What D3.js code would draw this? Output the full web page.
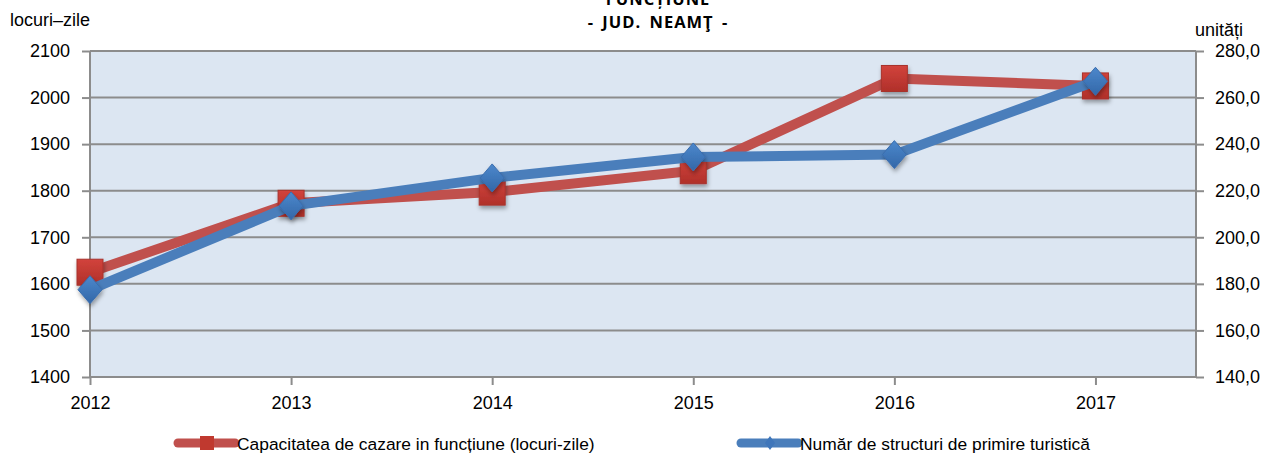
<!DOCTYPE html>
<html>
<head>
<meta charset="utf-8">
<script src="https://cdn.jsdelivr.net/npm/d3@7/dist/d3.min.js"></script>
<style>
  html, body { margin: 0; padding: 0; background: #fff; }
  svg { display: block; }
  .lbl { font-family: "Liberation Sans", Arial, sans-serif; fill: #000; }
  .ttl { font-family: "Open Sans", "Liberation Sans", Arial, sans-serif; font-weight: bold; fill: #000; }
</style>
</head>
<body>
<svg id="chart" width="1263" height="456"></svg>
<script>
// Years shown on the category axis
const years = [2012, 2013, 2014, 2015, 2016, 2017];
// Capacitatea de cazare in funcțiune (locuri-zile) – left axis
const capacitate = [1625, 1773, 1797, 1843, 2041, 2025];
// Număr de structuri de primire turistică (unități) – right axis
const structuri = [177.5, 213.5, 225.5, 234.5, 235.5, 267.0];
// Tick values
const leftTicks = [1400, 1500, 1600, 1700, 1800, 1900, 2000, 2100];
const rightTicks = [140, 160, 180, 200, 220, 240, 260, 280];

const redLine = "#C0504D", redMark = "#C0392F";
const blueLine = "#4A7EBB", blueMark = "#3F76BA";

const svg = d3.select("#chart");
const margin = { left: 90, right: 1196, top: 51, bottom: 377 };

const x = d3.scaleLinear().domain([2012, 2017.5]).range([margin.left, margin.right]);
const yL = d3.scaleLinear().domain([1400, 2100]).range([margin.bottom, margin.top]);
const yR = d3.scaleLinear().domain([140, 280]).range([margin.bottom, margin.top]);

// drop shadow and gradients for the markers
const defs = svg.append("defs");
const f = defs.append("filter").attr("id", "shadow").attr("x", "-50%").attr("y", "-50%").attr("width", "200%").attr("height", "200%");
f.append("feDropShadow").attr("dx", 1).attr("dy", 3).attr("stdDeviation", 2).attr("flood-color", "#000").attr("flood-opacity", 0.35);
const gRed = defs.append("linearGradient").attr("id", "gRed").attr("x1", 0).attr("y1", 0).attr("x2", 0).attr("y2", 1);
gRed.append("stop").attr("offset", "0%").attr("stop-color", "#D2433C");
gRed.append("stop").attr("offset", "100%").attr("stop-color", "#B0302A");
const gBlue = defs.append("linearGradient").attr("id", "gBlue").attr("x1", 0).attr("y1", 0).attr("x2", 0).attr("y2", 1);
gBlue.append("stop").attr("offset", "0%").attr("stop-color", "#4C88CC");
gBlue.append("stop").attr("offset", "100%").attr("stop-color", "#3367A8");

// plot background
svg.append("rect")
  .attr("x", margin.left).attr("y", margin.top)
  .attr("width", margin.right - margin.left).attr("height", margin.bottom - margin.top)
  .attr("fill", "#DCE6F2");

// horizontal gridlines
svg.append("g").selectAll("line").data(leftTicks).join("line")
  .attr("x1", margin.left).attr("x2", margin.right)
  .attr("y1", d => yL(d)).attr("y2", d => yL(d))
  .attr("stroke", "#8C8C8C").attr("stroke-width", 2);

// left axis
const axL = svg.append("g").attr("transform", `translate(${margin.left},0)`)
  .call(d3.axisLeft(yL).tickValues(leftTicks).tickSize(8).tickPadding(12).tickFormat(d3.format("d")));
// right axis
const axR = svg.append("g").attr("transform", `translate(${margin.right},0)`)
  .call(d3.axisRight(yR).tickValues(rightTicks).tickSize(8).tickPadding(11)
    .tickFormat(d => d3.format(".1f")(d).replace(".", ",")));
// bottom axis
const axB = svg.append("g").attr("transform", `translate(0,${margin.bottom})`)
  .call(d3.axisBottom(x).tickValues(years).tickSize(8).tickPadding(11).tickFormat(d3.format("d")));

[axL, axR, axB].forEach(a => {
  a.select(".domain").attr("stroke", "#8C8C8C").attr("stroke-width", 2);
  a.selectAll(".tick line").attr("stroke", "#8C8C8C").attr("stroke-width", 2);
  a.selectAll("text").attr("class", "lbl").attr("font-size", 18).attr("fill", "#000");
});
axB.select(".domain").attr("d", `M${margin.left},0H${margin.right}`);
axL.select(".domain").attr("d", `M0,${margin.top}V${margin.bottom}`);
axR.select(".domain").attr("d", `M0,${margin.top}V${margin.bottom}`);

// series lines
const lineL = d3.line().x((d, i) => x(years[i])).y(d => yL(d));
const lineR = d3.line().x((d, i) => x(years[i])).y(d => yR(d));

svg.append("path").datum(capacitate).attr("d", lineL)
  .attr("fill", "none").attr("stroke", redLine).attr("stroke-width", 10).attr("stroke-linejoin", "round");
svg.append("g").selectAll("rect").data(capacitate).join("rect")
  .attr("x", (d, i) => x(years[i]) - 13).attr("y", d => yL(d) - 13)
  .attr("width", 26).attr("height", 26)
  .attr("fill", "url(#gRed)").attr("stroke", "#A8322C").attr("stroke-width", 1)
  .attr("filter", "url(#shadow)");

svg.append("path").datum(structuri).attr("d", lineR)
  .attr("fill", "none").attr("stroke", blueLine).attr("stroke-width", 10).attr("stroke-linejoin", "round");
const diamond = (cx, cy, w, h) => `M${cx},${cy - h}L${cx + w},${cy}L${cx},${cy + h}L${cx - w},${cy}Z`;
svg.append("g").selectAll("path").data(structuri).join("path")
  .attr("d", (d, i) => diamond(x(years[i]), yR(d), 12, 14))
  .attr("fill", "url(#gBlue)").attr("stroke", "#3A6DAE").attr("stroke-width", 1)
  .attr("filter", "url(#shadow)");

// titles and axis units
svg.append("text").attr("class", "ttl").attr("x", 658).attr("y", 5)
  .attr("text-anchor", "middle").attr("font-size", 16.5).attr("letter-spacing", 1)
  .text("FUNCȚIUNE");
svg.append("text").attr("class", "ttl").attr("x", 658).attr("y", 28)
  .attr("text-anchor", "middle").attr("font-size", 16.5).attr("letter-spacing", 1)
  .attr("word-spacing", 3).text("- JUD. NEAMŢ -");
svg.append("text").attr("class", "lbl").attr("x", 10).attr("y", 26)
  .attr("font-size", 18).text("locuri–zile");
svg.append("text").attr("class", "lbl").attr("x", 1243).attr("y", 36)
  .attr("text-anchor", "end").attr("font-size", 18).text("unități");

// legend
const legend = [
  { label: "Capacitatea de cazare in funcțiune (locuri-zile)", color: redLine, mark: "square", x: 178 },
  { label: "Număr de structuri de primire turistică", color: blueLine, mark: "diamond", x: 741 }
];
const lg = svg.append("g").selectAll("g").data(legend).join("g")
  .attr("transform", d => `translate(${d.x},443)`);
lg.append("line").attr("x1", 0).attr("x2", 57).attr("y1", 0).attr("y2", 0)
  .attr("stroke", d => d.color).attr("stroke-width", 9).attr("stroke-linecap", "round");
lg.filter(d => d.mark === "square").append("rect")
  .attr("x", 22).attr("y", -7).attr("width", 14).attr("height", 14).attr("fill", redMark);
lg.filter(d => d.mark === "diamond").append("path")
  .attr("d", diamond(29, 0, 5, 7)).attr("fill", blueMark);
lg.append("text").attr("class", "lbl").attr("x", 59).attr("y", 7)
  .attr("font-size", 17.4).text(d => d.label);
</script>
</body>
</html>
